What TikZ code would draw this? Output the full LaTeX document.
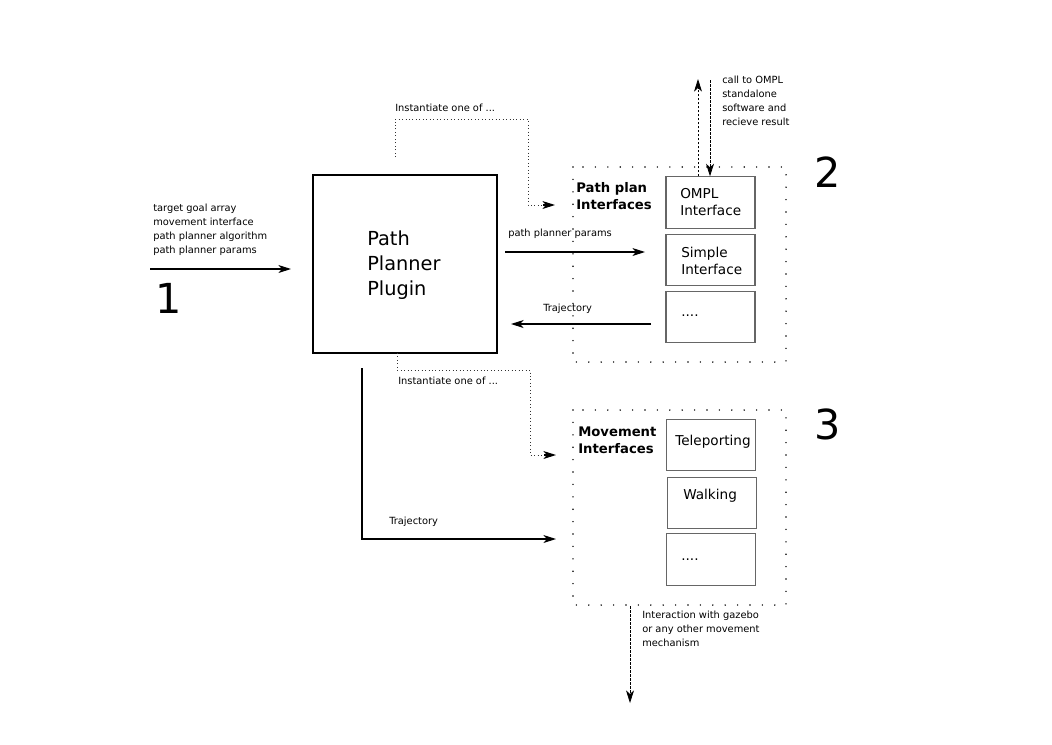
\documentclass[tikz,border=0pt]{standalone}
\usepackage{fontspec}
\setmainfont{DejaVu Sans}
\usetikzlibrary{arrows.meta,calc}
\begin{document}
\begin{tikzpicture}[x=0.75pt,y=-0.75pt,
  tip/.tip={Stealth[length=9.5pt,width=6pt,inset=2.8pt]},
  arr/.style={-tip, line width=0.8pt},
  dotline/.style={dotted, line width=0.6pt, draw=black!80},
  dashline/.style={dashed, dash pattern=on 2pt off 1pt, line width=0.6pt, -tip},
  grpbox/.style={draw, line width=1.2pt, line cap=round, dash pattern=on 0pt off 9.3pt},
  subbox/.style={draw=black!60, line width=0.8pt, minimum width=66.75pt, minimum height=38.5pt, inner sep=0pt},
  small/.style={font=\fontsize{7.4}{10.5}\selectfont, align=left, inner sep=0pt},
  mid/.style={font=\fontsize{10.2}{12.75}\selectfont, align=left, inner sep=0pt},
  bold/.style={font=\fontsize{9.9}{12.75}\selectfont\bfseries, align=left, inner sep=0pt},
  big/.style={font=\fontsize{14.5}{19}\selectfont, align=left, inner sep=0pt},
  num/.style={font=\fontsize{31}{31}\selectfont, inner sep=0pt}]
\useasboundingbox (0,0) rectangle (1052,744);

% main plugin box
\node[draw, line width=1pt, minimum width=138pt, minimum height=133.5pt, inner sep=0pt] (plugin) at (405,264) {};
\node[big, anchor=west] (plugtxt) at (367,265) {Path\\Planner\\Plugin};

% input
\coordinate (inA) at (150,269);
\coordinate (inB) at (291,269);
\draw[arr] (inA) -- (inB);
\node[small, anchor=west] (inlbl) at (153,230) {target goal array\\movement interface\\path planner algorithm\\path planner params};
\node[num] (n1) at (169,298) {1};

% path plan group
\path[grpbox] (573,167) rectangle (786,362);
\node[bold, anchor=west] (pptxt) at (576,196) {Path plan\\Interfaces};
\node[subbox] (ompl) at (710.5,202.5) {};
\node[mid, anchor=west] (ompltxt) at (680,202) {OMPL\\Interface};
\node[subbox] (simple) at (710.5,260) {};
\node[mid, anchor=west] (simpletxt) at (681,261) {Simple\\Interface};
\node[subbox] (pdots) at (710.5,317) {};
\node[mid, anchor=west] (pdotstxt) at (681,316) {....};
\node[num] (n2) at (828,172) {2};

% movement group
\path[grpbox] (573,410) rectangle (786,605);
\node[bold, anchor=west] (mvtxt) at (578,440) {Movement\\Interfaces};
\node[subbox] (tele) at (711,445) {};
\node[mid, anchor=west] (teletxt) at (675,442) {Teleporting};
\node[subbox] (walk) at (712,503) {};
\node[mid, anchor=west] (walktxt) at (683,496) {Walking};
\node[subbox] (mdots) at (711,559.5) {};
\node[mid, anchor=west] (mdotstxt) at (681,560) {....};
\node[num] (n3) at (828,424) {3};

% top instantiate connector
\coordinate (t0) at (395,157);
\coordinate (t1) at (395,119);
\coordinate (t2) at (528,119);
\coordinate (t3) at (528,205);
\coordinate (t4) at (555,205);
\draw[dotline] (t0) -- (t1) -- (t2) -- (t3) -- ($(t4)+(-8,0)$);
\draw[arr] ($(t4)+(-12,0)$) -- (t4);
\node[small, anchor=west] (tlbl) at (395,108) {Instantiate one of ...};

% params arrow
\coordinate (pa) at (505,252);
\coordinate (pb) at (645,252);
\draw[arr] (pa) -- (pb);
\node[small, anchor=west] (plbl) at (508,234) {path planner params};

% trajectory back
\coordinate (ta) at (651,324);
\coordinate (tb) at (511,324);
\draw[arr] (ta) -- (tb);
\node[small, anchor=west] (trlbl) at (543,309) {Trajectory};

% OMPL external
\coordinate (oUp) at (698,79);
\coordinate (oDn) at (710,80);
\draw[dashline] (ompl.north -| oUp) -- (oUp);
\draw[dashline] (oDn) -- (ompl.north -| oDn);
\node[small, anchor=north west] (olbl) at (722,76) {call to OMPL\\standalone\\software and\\recieve result};

% bottom instantiate connector
\coordinate (b0) at (397,353);
\coordinate (b1) at (397,370);
\coordinate (b2) at (530,370);
\coordinate (b3) at (530,455);
\coordinate (b4) at (556,455);
\draw[dotline] (b0) -- (b1) -- (b2) -- (b3) -- ($(b4)+(-8,0)$);
\draw[arr] ($(b4)+(-12,0)$) -- (b4);
\node[small, anchor=west] (blbl) at (398,381) {Instantiate one of ...};

% trajectory to movement
\coordinate (m0) at (362,368);
\coordinate (m1) at (362,539);
\coordinate (m2) at (556,539);
\draw[arr] (m0) -- (m1) -- (m2);
\node[small, anchor=west] (mlbl) at (389,522) {Trajectory};

% interaction
\coordinate (i0) at (630,606);
\coordinate (i1) at (630,703);
\draw[dashline] (i0) -- (i1);
\node[small, anchor=north west] (ilbl) at (642,611) {Interaction with gazebo\\or any other movement\\mechanism};
\end{tikzpicture}
\end{document}
